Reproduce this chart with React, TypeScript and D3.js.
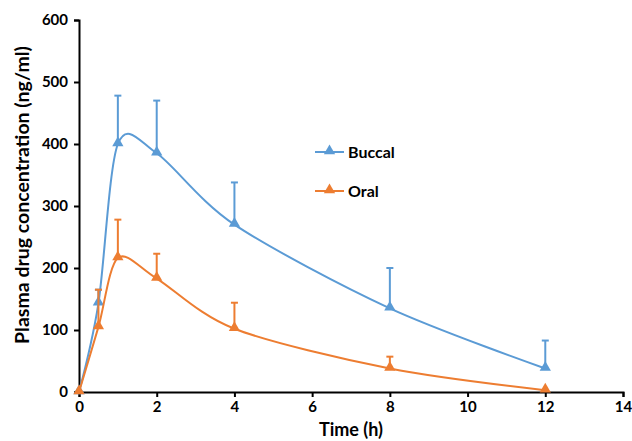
import React, { useEffect, useRef } from "react";
import * as d3 from "d3";

const times = [0, 0.5, 1, 2, 4, 8, 12];
const buccal = [0, 143, 400, 385, 270, 135, 38];
const buccalSd = [0, 22, 78, 85, 68, 65, 45];
const oral = [0, 105, 216, 183, 102, 38, 3];
const oralSd = [0, 60, 62, 40, 42, 19, 0];
const xTicks = [0, 2, 4, 6, 8, 10, 12, 14];
const yTicks = [0, 100, 200, 300, 400, 500, 600];

const series = [
  { name: "Buccal", values: buccal, sd: buccalSd, color: "#5B9BD5" },
  { name: "Oral", values: oral, sd: oralSd, color: "#ED7D31" },
];

export default function App() {
  const ref = useRef<SVGSVGElement>(null);

  useEffect(() => {
    const width = 632;
    const height = 441;
    const margin = { top: 20, right: 9, bottom: 49, left: 79 };
    const innerWidth = width - margin.left - margin.right;
    const innerHeight = height - margin.top - margin.bottom;

    const svg = d3.select(ref.current);
    svg.selectAll("*").remove();

    const xScale = d3.scaleLinear().domain([0, 14]).range([0, innerWidth]);
    const yScale = d3.scaleLinear().domain([0, 600]).range([innerHeight, 0]);

    const g = svg
      .append("g")
      .attr("transform", `translate(${margin.left},${margin.top})`);

    const font = "Lato, 'Open Sans', sans-serif";

    // y axis
    const yAxisG = g
      .append("g")
      .call(d3.axisLeft(yScale).tickValues(yTicks).tickSize(5).tickPadding(6));
    yAxisG.selectAll("path,line").attr("stroke", "#000").attr("stroke-width", 2);
    yAxisG
      .selectAll("text")
      .attr("font-family", font)
      .attr("font-weight", "bold")
      .attr("font-size", 15)
      .attr("fill", "#000");

    // x axis
    const xAxisG = g
      .append("g")
      .attr("transform", `translate(0,${innerHeight})`)
      .call(d3.axisBottom(xScale).tickValues(xTicks).tickSize(5).tickPadding(4));
    xAxisG.selectAll("path,line").attr("stroke", "#000").attr("stroke-width", 2);
    xAxisG
      .selectAll("text")
      .attr("font-family", font)
      .attr("font-weight", "bold")
      .attr("font-size", 15)
      .attr("fill", "#000");

    g.append("text")
      .attr("x", innerWidth / 2)
      .attr("y", innerHeight + 44)
      .attr("text-anchor", "middle")
      .attr("font-family", font)
      .attr("font-weight", "bold")
      .attr("font-size", 18)
      .text("Time (h)");

    g.append("text")
      .attr("transform", "rotate(-90)")
      .attr("x", -175)
      .attr("y", -50)
      .attr("text-anchor", "middle")
      .attr("font-family", font)
      .attr("font-weight", "bold")
      .attr("font-size", 19.5)
      .text("Plasma drug concentration (ng/ml)");

    const line = d3
      .line<number>()
      .x((d, i) => xScale(times[i]))
      .y((d) => yScale(d))
      .curve(d3.curveCardinal.tension(0.1));

    const tri = d3.symbol().type(d3.symbolTriangle).size(55);

    series.forEach((s) => {
      // error bars (upper only)
      s.values.forEach((v, i) => {
        if (!s.sd[i]) return;
        const x = xScale(times[i]);
        g.append("line")
          .attr("x1", x)
          .attr("x2", x)
          .attr("y1", yScale(v))
          .attr("y2", yScale(v + s.sd[i]))
          .attr("stroke", s.color)
          .attr("stroke-width", 2);
        g.append("line")
          .attr("x1", x - 3.5)
          .attr("x2", x + 3.5)
          .attr("y1", yScale(v + s.sd[i]))
          .attr("y2", yScale(v + s.sd[i]))
          .attr("stroke", s.color)
          .attr("stroke-width", 2);
      });

      g.append("path")
        .datum(s.values)
        .attr("fill", "none")
        .attr("stroke", s.color)
        .attr("stroke-width", 2)
        .attr("d", line);

      g.selectAll(null)
        .data(s.values)
        .enter()
        .append("path")
        .attr("d", tri)
        .attr("fill", s.color)
        .attr(
          "transform",
          (d, i) => `translate(${xScale(times[i])},${yScale(d) - 1})`
        );
    });

    // legend
    const legend = svg.append("g").attr("transform", "translate(315,152)");
    series.forEach((s, i) => {
      const lg = legend.append("g").attr("transform", `translate(0,${i * 39})`);
      lg.append("line")
        .attr("x1", 0)
        .attr("x2", 29)
        .attr("stroke", s.color)
        .attr("stroke-width", 2);
      lg.append("path")
        .attr("d", tri)
        .attr("fill", s.color)
        .attr("transform", "translate(14.5,-1)");
      lg.append("text")
        .attr("x", 33)
        .attr("y", 5.5)
        .attr("font-family", font)
        .attr("font-weight", "bold")
        .attr("font-size", 16)
        .text(s.name);
    });
  }, []);

  return (
    <svg
      ref={ref}
      width={632}
      height={441}
      style={{ position: "absolute", left: 0, top: 0, background: "#fff" }}
    />
  );
}
